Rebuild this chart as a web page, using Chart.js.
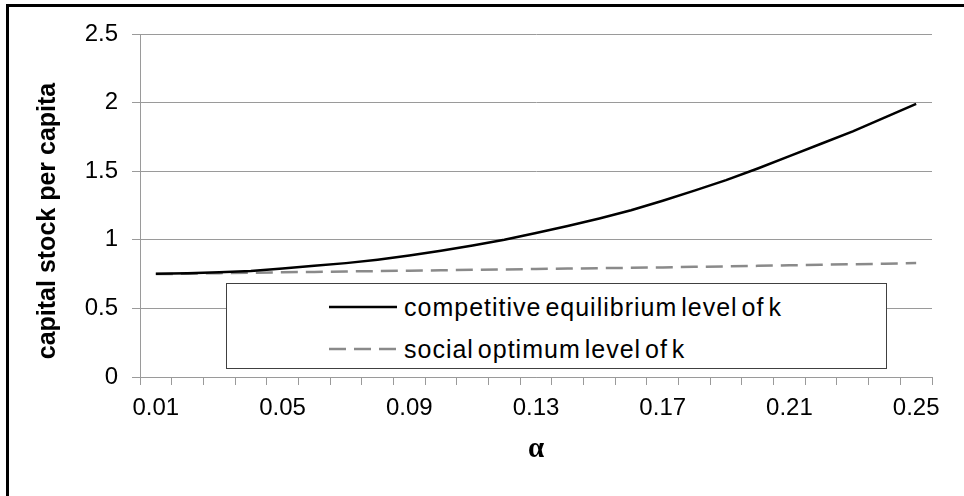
<!DOCTYPE html>
<html>
<head>
<meta charset="utf-8">
<script src="https://cdn.jsdelivr.net/npm/chart.js@4/dist/chart.umd.min.js"></script>
<style>
  html, body { margin: 0; padding: 0; background: #fff; overflow: hidden; }
  #wrap { position: relative; width: 964px; height: 496px; }
  #frame { position: absolute; left: 6px; top: 4px; width: 1000px; height: 600px; border: 3px solid #000; box-sizing: border-box; }
  #legend { position: absolute; left: 226px; top: 283px; width: 661px; height: 86px; box-sizing: border-box;
            border: 1.5px solid #404040; background: #fff; font-family: "Liberation Sans", Arial, sans-serif; font-size: 25px; }
  #legend .row { position: absolute; left: 102px; height: 28px; display: flex; align-items: center; }
  #legend .row span { margin-left: 7px; word-spacing: -4px; letter-spacing: 1px; }
</style>
</head>
<body>
<div id="wrap">
  <canvas id="line-chart" width="964" height="496"></canvas>
  <div id="frame"></div>
  <div id="legend"></div>
</div>
<script>
const alphas = ["0.01","0.02","0.03","0.04","0.05","0.06","0.07","0.08","0.09","0.10","0.11","0.12","0.13",
                "0.14","0.15","0.16","0.17","0.18","0.19","0.20","0.21","0.22","0.23","0.24","0.25"];
const competitive = [0.752,0.756,0.763,0.773,0.79,0.81,0.83,0.855,0.885,0.92,0.958,1.0,1.05,
                     1.10,1.155,1.215,1.285,1.358,1.435,1.52,1.61,1.70,1.79,1.89,1.99];
const social = [0.75,0.753,0.757,0.760,0.763,0.766,0.769,0.772,0.775,0.778,0.781,0.784,0.787,
                0.790,0.793,0.796,0.799,0.803,0.806,0.810,0.814,0.818,0.822,0.826,0.83];
const yTicks = [0, 0.5, 1, 1.5, 2, 2.5];
const yTitle = 'capital stock per capita';

const tickFont = { family: "Liberation Sans", size: 24 };
const gridGray = '#9a9a9a';

// y title sits a bit below the middle of the axis, like the original
const yTitlePlugin = {
  id: 'yTitle',
  afterDraw(chart) {
    const ctx = chart.ctx;
    ctx.save();
    ctx.translate(48, 221);
    ctx.rotate(-Math.PI / 2);
    ctx.font = 'bold 25px "Liberation Sans"';
    ctx.fillStyle = '#000';
    ctx.textAlign = 'center';
    ctx.textBaseline = 'middle';
    ctx.fillText(yTitle, 0, 0);
    ctx.restore();
  }
};

let chart = new Chart(document.getElementById("line-chart"), {
  type: 'line',
  data: {
    labels: alphas,
    datasets: [{
      label: "competitive equilibrium level of k",
      data: competitive,
      borderColor: '#000',
      borderWidth: 2.5,
      pointRadius: 0,
      tension: 0
    }, {
      label: "social optimum level of k",
      data: social,
      borderColor: '#8a8a8a',
      borderWidth: 2.5,
      borderDash: [17, 8],
      pointRadius: 0,
      tension: 0
    }]
  },
  options: {
    responsive: false,
    animation: false,
    layout: { padding: { left: 0, top: 34, right: 32, bottom: 0 } },
    plugins: { legend: { display: false }, tooltip: { enabled: false } },
    scales: {
      x: {
        offset: true,
        grid: { offset: true, drawOnChartArea: false, color: gridGray, tickLength: 8 },
        border: { color: gridGray, width: 1 },
        ticks: {
          autoSkip: false, maxRotation: 0, color: '#000', font: tickFont, padding: 9,
          callback: function(v, i) { return i % 4 == 0 ? alphas[i] : ''; }
        },
        title: { display: true, text: 'α', color: '#000',
                 font: { family: "Liberation Serif", size: 29, weight: 'bold' },
                 padding: { top: 0, bottom: 29 } },
        afterFit: function(scale) { scale.height = 496 - 377; }
      },
      y: {
        min: 0, max: 2.5,
        afterBuildTicks: function(scale) { scale.ticks = yTicks.map(v => ({ value: v })); },
        grid: { color: gridGray, tickLength: 8 },
        border: { color: gridGray, width: 1 },
        ticks: { color: '#000', font: tickFont, padding: 14,
                 callback: function(v) { return String(v); } },
        afterFit: function(scale) { scale.width = 140; }
      }
    }
  },
  plugins: [yTitlePlugin]
});

// legend box drawn from the datasets
const legend = document.getElementById('legend');
chart.data.datasets.forEach(function(ds, i) {
  const row = document.createElement('div');
  row.className = 'row';
  row.style.top = (i == 0 ? 9 : 51) + 'px';
  const svg = '<svg width="68" height="6"><line x1="0" y1="3" x2="68" y2="3" stroke="' + ds.borderColor +
    '" stroke-width="2.5"' + (ds.borderDash ? ' stroke-dasharray="' + ds.borderDash.join(' ') + '"' : '') + '/></svg>';
  row.innerHTML = svg + '<span>' + ds.label + '</span>';
  legend.appendChild(row);
});
</script>
</body>
</html>
